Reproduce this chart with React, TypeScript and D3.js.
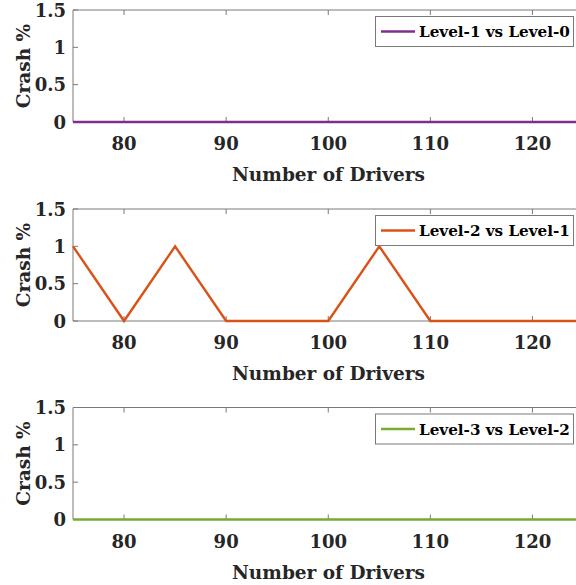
import React from "react";
import * as d3 from "d3";

const drivers = [75, 80, 85, 90, 95, 100, 105, 110, 115, 120, 125];
const level1vs0 = [0, 0, 0, 0, 0, 0, 0, 0, 0, 0, 0];
const level2vs1 = [1, 0, 1, 0, 0, 0, 1, 0, 0, 0, 0];
const level3vs2 = [0, 0, 0, 0, 0, 0, 0, 0, 0, 0, 0];
const seriesNames = ["Level-1 vs Level-0", "Level-2 vs Level-1", "Level-3 vs Level-2"];
const seriesColors = ["#7E2F8E", "#D95319", "#77AC30"];
const xTicks = [80, 90, 100, 110, 120];
const yTicks = [0, 0.5, 1, 1.5];
const xTitle = "Number of Drivers";
const yTitle = "Crash %";

const W = 576;
const H = 585;
const left = 73;
const right = 583.5;
const panelTops = [10, 209, 407.5];
const panelH = 112;
const font = "'DejaVu Serif', serif";
const axisColor = "#7a7a7a";
const textColor = "#262626";

function Panel({ top, values, name, color }: { top: number; values: number[]; name: string; color: string }) {
  const x = d3.scaleLinear().domain([75, 125]).range([left, right]);
  const y = d3.scaleLinear().domain([0, 1.5]).range([top + panelH, top]);
  const line = d3
    .line<number>()
    .x((_, i) => x(drivers[i]))
    .y((d) => y(d));
  const y0 = y(0);
  const tickLen = 5;
  return (
    <g>
      <path
        d={`M${left},${y0} L${left},${top} L${right},${top} L${right},${y0} Z`}
        fill="none"
        stroke={axisColor}
        strokeWidth={1}
      />
      {xTicks.map((t) => (
        <g key={"x" + t}>
          <line x1={x(t)} x2={x(t)} y1={y0} y2={y0 - tickLen} stroke={axisColor} />
          <line x1={x(t)} x2={x(t)} y1={top} y2={top + tickLen} stroke={axisColor} />
          <text
            x={x(t)}
            y={y0 + 28}
            textAnchor="middle"
            fontFamily={font}
            fontWeight="bold"
            fontSize={18}
            fill={textColor}
          >
            {t}
          </text>
        </g>
      ))}
      {yTicks.map((t) => (
        <g key={"y" + t}>
          <line x1={left} x2={left + tickLen} y1={y(t)} y2={y(t)} stroke={axisColor} />
          <text
            x={left - 7}
            y={y(t) + 6.5}
            textAnchor="end"
            fontFamily={font}
            fontWeight="bold"
            fontSize={18}
            fill={textColor}
          >
            {t}
          </text>
        </g>
      ))}
      <text
        x={(left + W) / 2 + 4}
        y={y0 + 59}
        textAnchor="middle"
        fontFamily={font}
        fontWeight="bold"
        fontSize={18.5}
        fill={textColor}
      >
        {xTitle}
      </text>
      <text
        transform={`translate(${30},${top + panelH / 2}) rotate(-90)`}
        textAnchor="middle"
        fontFamily={font}
        fontWeight="bold"
        fontSize={18.5}
        fill={textColor}
      >
        {yTitle}
      </text>
      <path d={line(values) || ""} fill="none" stroke={color} strokeWidth={2.4} strokeLinejoin="miter" />
      <rect x={375.5} y={top + 6.5} width={198} height={30} fill="#fff" stroke={axisColor} strokeWidth={1} />
      <line x1={381} x2={415} y1={top + 21.5} y2={top + 21.5} stroke={color} strokeWidth={2.4} />
      <text
        x={419}
        y={top + 27}
        fontFamily={font}
        fontWeight="bold"
        fontSize={15.2}
        fill="#000"
      >
        {name}
      </text>
    </g>
  );
}

export default function App() {
  const data = [level1vs0, level2vs1, level3vs2];
  return (
    <svg
      width={W}
      height={H}
      viewBox={`0 0 ${W} ${H}`}
      style={{ position: "absolute", left: 0, top: 0, background: "#fff" }}
    >
      <rect x={0} y={0} width={W} height={H} fill="#fff" />
      {data.map((vals, i) => (
        <Panel key={i} top={panelTops[i]} values={vals} name={seriesNames[i]} color={seriesColors[i]} />
      ))}
    </svg>
  );
}
